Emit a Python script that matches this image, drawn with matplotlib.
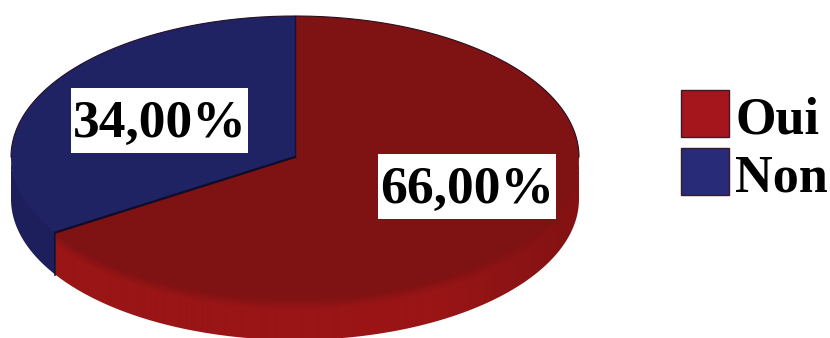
import matplotlib.pyplot as plt
import numpy as np
from matplotlib.colors import to_rgb
from matplotlib.patches import Polygon

labels = ['Oui', 'Non']
values = [66.0, 34.0]
value_labels = ['66,00%', '34,00%']

top_colors = ['#7f1213', '#1f2263']
wall_colors = ['#9a1516', '#1c1f5c']
legend_colors = ['#a5151c', '#272b78']

# ellipse geometry, in pixels
cx, cy = 295, 157
rx, ry = 284, 141
depth = 42


def rim(a):
    # a in degrees, clockwise from the top of the pie
    a = np.radians(a)
    return cx + rx * np.sin(a), cy - ry * np.cos(a)


def wall_outline(a0, a1):
    a = np.arange(a0, a1 + 0.25, 0.5)
    xs, ys = rim(a)
    return np.c_[np.r_[xs, xs[::-1]], np.r_[ys - 2, ys[::-1] + depth]]


fig = plt.figure(figsize=(8.3, 3.38), dpi=100)
ax = fig.add_axes([0, 0, 1, 1])
ax.set_xlim(0, 830)
ax.set_ylim(338, 0)
ax.axis('off')

plt.rcParams['font.family'] = ['Liberation Serif', 'DejaVu Serif']

edges = np.concatenate([[0], np.cumsum(values)]) / sum(values) * 360

# red side wall: fades into the top colour near the rim and towards the right
gx, gy = np.meshgrid(np.arange(0, 830) + 0.5, np.arange(0, 338) + 0.5)
u = np.clip((gx - cx) / rx, -1, 1)
rim_y = cy + ry * np.sqrt(1 - u ** 2)
fade_v = np.clip((gy - rim_y) / 12, 0, 1)
fade_h = np.clip((565 - gx) / 130, 0, 1)
t = (fade_v * (0.2 + 0.8 * fade_h))[..., None]
dark = np.array(to_rgb(top_colors[0]))
bright = np.array(to_rgb(wall_colors[0]))
wall_img = dark + (bright - dark) * t
img = ax.imshow(wall_img, extent=(0, 830, 338, 0), aspect='auto', zorder=1)
red_wall = Polygon(wall_outline(90, edges[1]), transform=ax.transData,
                   facecolor='none', edgecolor='none')
ax.add_patch(red_wall)
img.set_clip_path(red_wall)
ax.set_xlim(0, 830)
ax.set_ylim(338, 0)

# blue side wall
ax.add_patch(Polygon(wall_outline(edges[1], 270), facecolor=wall_colors[1],
                     edgecolor='none', zorder=1))

# top surface
for i in range(len(values)):
    a = np.arange(edges[i], edges[i + 1] + 0.5, 0.5)
    xs, ys = rim(a)
    ax.fill(np.r_[cx, xs], np.r_[cy, ys], color=top_colors[i], lw=0, zorder=2)

# slice borders
xb, yb = rim(edges[1])
ax.plot([cx, cx], [cy, cy - ry], color='#12123a', lw=1, zorder=3)
ax.plot([cx, xb], [cy, yb], color='#0d0d2a', lw=1.6, zorder=3)
ax.plot([xb, xb], [yb, yb + depth], color='#0d0d2a', lw=1.2, zorder=3)

# dark outline along the back of the pie
xs, ys = rim(np.arange(-90, 90.5, 0.5))
ax.plot(xs, ys, color='#2a1020', lw=0.8, zorder=3)

# value labels sit on white boxes
label_boxes = [(378, 154, 178, 65), (71, 88, 177, 65)]
for txt, (x, y, w, h) in zip(value_labels, label_boxes):
    ax.add_patch(plt.Rectangle((x, y), w, h, facecolor='white',
                               edgecolor='none', zorder=4))
    ax.text(x + w / 2, y + 49, txt, fontsize=38.5, fontweight='bold',
            ha='center', va='baseline', color='black', zorder=5)

# legend
legend_y = [90, 148]
for name, col, y in zip(labels, legend_colors, legend_y):
    ax.add_patch(plt.Rectangle((681, y), 48, 47, facecolor=col,
                               edgecolor='#3a1a28', lw=1, zorder=4))
    ax.text(735, y + 43, name, fontsize=37.5, fontweight='bold', ha='left',
            va='baseline', color='black', zorder=5)

fig.savefig('out.png', dpi=100, facecolor='white')
